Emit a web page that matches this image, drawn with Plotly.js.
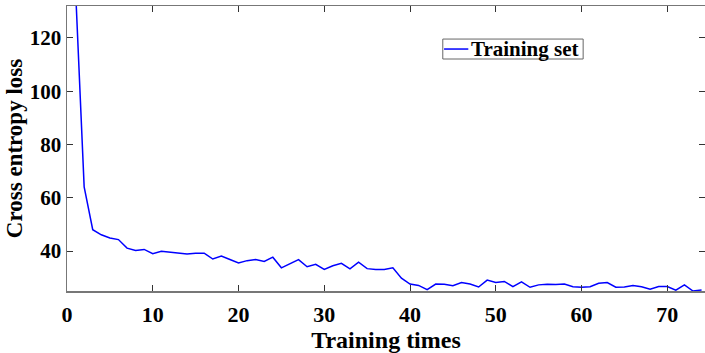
<!DOCTYPE html>
<html>
<head>
<meta charset="utf-8">
<script src="https://cdn.plot.ly/plotly-3.0.1.min.js"></script>
<style>html,body{margin:0;padding:0;background:#fff;}#chart{width:705px;height:353px;}</style>
</head>
<body>
<div id="chart"></div>
<script>
const epochs = [];
for (let i = 1; i <= 74; i++) epochs.push(i);
const trainingLoss = [
  138, 64.1, 48.0, 46.1, 44.9, 44.3, 41.1, 40.2, 40.6, 39.0,
  39.9, 39.5, 39.3, 38.9, 39.2, 39.2, 37.0, 38.1, 36.8, 35.5,
  36.4, 36.8, 36.1, 37.7, 33.7, 35.2, 36.8, 34.1, 35.0, 33.1,
  34.5, 35.4, 33.3, 35.8, 33.4, 33.1, 33.1, 33.7, 29.8, 27.6,
  27.1, 25.5, 27.6, 27.5, 27.0, 28.2, 27.6, 26.5, 29.1, 28.2,
  28.6, 26.6, 28.4, 26.4, 27.3, 27.5, 27.4, 27.6, 26.6, 26.4,
  26.6, 27.9, 28.2, 26.4, 26.5, 27.1, 26.6, 25.7, 26.7, 26.7,
  25.3, 27.3, 25.0, 25.4
];
const seriesName = 'Training set';
const xTicks = [0, 10, 20, 30, 40, 50, 60, 70];
const yTicks = [40, 60, 80, 100, 120];

const font = {family: '"Liberation Serif", "Times New Roman", serif', color: '#000'};
const lineColor = '#0000ff';

// legend box drawn in paper coordinates (tight box like the reference)
const lg = {x0: 0.589, x1: 0.809, y0: 0.814, y1: 0.884};
const lgMid = (lg.y0 + lg.y1) / 2;

Plotly.newPlot('chart', [{
  x: epochs, y: trainingLoss, type: 'scatter', mode: 'lines',
  name: seriesName, showlegend: false,
  line: {color: lineColor, width: 1.5}
}], {
  width: 705, height: 353,
  margin: {l: 67, r: 0, t: 6, b: 62},
  paper_bgcolor: '#fff', plot_bgcolor: '#fff',
  showlegend: false,
  shapes: [
    {type: 'rect', xref: 'paper', yref: 'paper', x0: lg.x0, x1: lg.x1, y0: lg.y0, y1: lg.y1,
     line: {color: '#666', width: 1}, fillcolor: '#fff', layer: 'above'},
    {type: 'line', xref: 'paper', yref: 'paper', x0: lg.x0 + 0.002, x1: lg.x0 + 0.04, y0: lgMid, y1: lgMid,
     line: {color: lineColor, width: 1.5}, layer: 'above'}
  ],
  annotations: [
    {xref: 'paper', yref: 'paper', x: lg.x0 + 0.041, y: lgMid, xanchor: 'left', yanchor: 'middle',
     text: '<b>' + seriesName + '</b>', showarrow: false, font: Object.assign({size: 21}, font)}
  ],
  xaxis: {
    range: [0, 74.4], tickvals: xTicks, ticktext: xTicks.map(v => '<b>' + v + '</b>'),
    ticks: 'inside', ticklen: 6, tickcolor: '#333', tickwidth: 1,
    showline: true, linecolor: '#777', linewidth: 1.5, mirror: 'ticks',
    showgrid: false, zeroline: false, ticklabelstandoff: 3,
    tickfont: Object.assign({size: 22}, font),
    title: {text: '<b>Training times</b>', font: Object.assign({size: 24}, font), standoff: 1}
  },
  yaxis: {
    range: [25, 132], tickvals: yTicks, ticktext: yTicks.map(v => '<b>' + v + '</b>'),
    ticks: 'inside', ticklen: 6, tickcolor: '#333', tickwidth: 1,
    showline: true, linecolor: '#777', linewidth: 1.5, mirror: 'ticks',
    showgrid: false, zeroline: false,
    tickfont: Object.assign({size: 21}, font),
    title: {text: '<b>Cross entropy loss</b>', font: Object.assign({size: 23}, font), standoff: 0}
  }
}, {displayModeBar: false, staticPlot: true});
</script>
</body>
</html>
